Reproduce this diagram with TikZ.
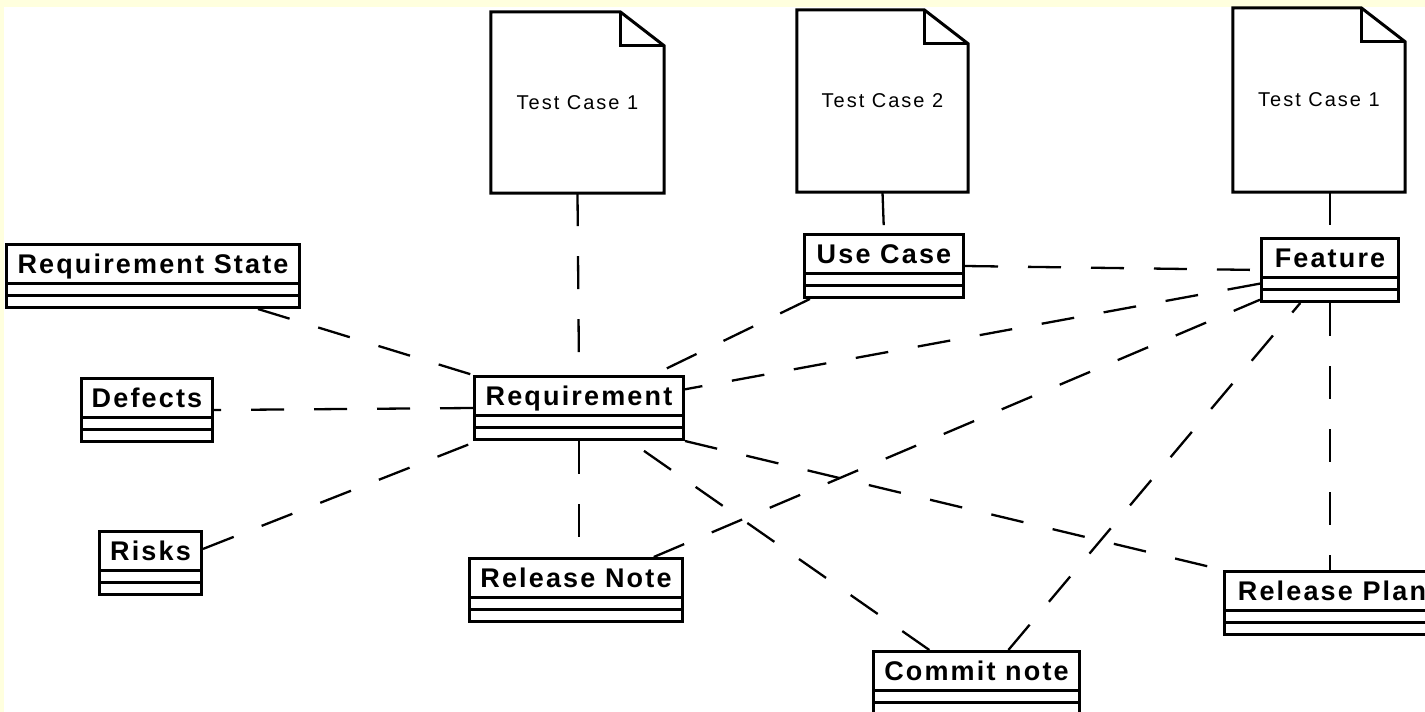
\documentclass[tikz,border=0pt]{standalone}
\usepackage{fontspec}
\setmainfont{Liberation Sans}
\newfontfamily\umlfont{Liberation Sans}[LetterSpace=8]
\newfontfamily\notefont{Liberation Sans}[LetterSpace=10]
\usetikzlibrary{calc}
\definecolor{paleyellow}{RGB}{255,255,222}
\tikzset{
  umlclass/.style={draw, line width=3pt, fill=white, inner sep=0pt, minimum height=63pt,
    anchor=north west, text height=10pt, text depth=16pt,
    font=\umlfont\fontsize{27}{31}\selectfont\bfseries},
  umldoc/.style={inner sep=0pt, font=\notefont\fontsize{20}{24}\selectfont},
  docline/.style={line width=3pt, line join=miter},
  assoc/.style={line width=2.3pt, dash pattern=on 33pt off 30pt}
}
\newcommand\compartments[1]{%
  \draw[line width=3pt] ([yshift=-40pt]#1.north west) -- ([yshift=-40pt]#1.north east)
    ([yshift=-52pt]#1.north west) -- ([yshift=-52pt]#1.north east);}
\newcommand\dogear[1]{%
  \draw[docline, fill=white] (#1.south west) -- (#1.north west) -- ([xshift=-44pt]#1.north east)
    -- ([yshift=-34pt]#1.north east) -- (#1.south east) -- cycle;
  \draw[docline] ([xshift=-44pt]#1.north east) -- ([xshift=-44pt,yshift=-34pt]#1.north east)
    -- ([yshift=-34pt]#1.north east);}
\begin{document}
\begin{tikzpicture}[x=1pt,y=-1pt]
\useasboundingbox (0,0) rectangle (1425,712);
\clip (0,0) rectangle (1425,712);
\fill[paleyellow] (0,0) rectangle (1425,712);
\fill[white] (4,7) rectangle (1425,712);

\node[umldoc, minimum width=173pt, minimum height=181pt] (tcA) at (577.5,102.5) {};
\node[umldoc, minimum width=171pt, minimum height=182pt] (tcB) at (882.5,101) {};
\node[umldoc, minimum width=172pt, minimum height=184pt] (tcC) at (1319,100) {};
\dogear{tcA}
\dogear{tcB}
\dogear{tcC}
\node[umldoc] at (tcA) {Test Case 1};
\node[umldoc] at (tcB) {Test Case 2};
\node[umldoc] at (tcC) {Test Case 1};

\node[umlclass, minimum width=293pt] (rstate) at (5,243) {Requirement State};
\node[umlclass, minimum width=209pt] (req) at (473,375) {Requirement};
\node[umlclass, minimum width=131pt] (defects) at (80,377) {Defects};
\node[umlclass, minimum width=102pt] (risks) at (98,530) {Risks};
\node[umlclass, minimum width=213pt] (rnote) at (468,557) {Release Note};
\node[umlclass, minimum width=159pt] (usecase) at (803,233) {Use Case};
\node[umlclass, minimum width=137pt] (feature) at (1260,237) {Feature};
\node[umlclass, minimum width=215pt] (rplan) at (1223,570) {Release Plan};
\node[umlclass, minimum width=206pt] (commit) at (872,650) {Commit note};
\foreach \c in {rstate,req,defects,risks,rnote,usecase,feature,rplan,commit}
  \compartments{\c};

\draw[assoc] (tcA.south) -- (req.north);
\draw[assoc] (tcB.south) -- (usecase.north);
\draw[assoc] (tcC.south -| feature.north) -- (feature.north);
\draw[assoc] ([xshift=-43pt]rstate.south east) -- (req.north west);
\draw[assoc] (req.west) -- (defects.east);
\draw[assoc] (risks.15) -- (req.198);
\draw[assoc] (req.south) -- (req.south |- rnote.north);
\draw[assoc] (usecase.204) -- (req.24);
\draw[assoc] (usecase.east) -- (feature.west);
\draw[assoc] (feature.191) -- (req.10);
\draw[assoc] (rnote.23) -- (feature.203);
\draw[assoc] (commit.46) -- (feature.228);
\draw[assoc] (commit.145) -- (req.327);
\draw[assoc] (req.south east) -- (rplan.north west);
\draw[assoc] (feature.south) -- (feature.south |- rplan.north);
\end{tikzpicture}
\end{document}
